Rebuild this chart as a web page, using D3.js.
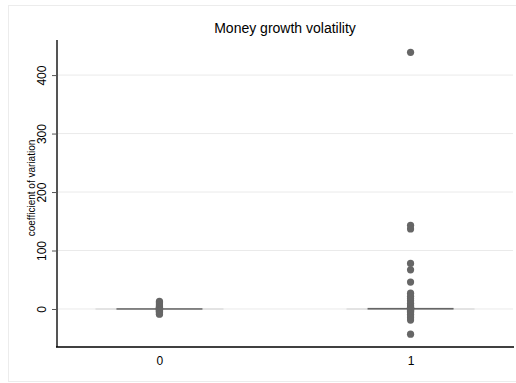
<!DOCTYPE html>
<html>
<head>
<meta charset="utf-8">
<script src="https://cdn.jsdelivr.net/npm/d3@7"></script>
<style>
  body { margin: 0; background: #fff; }
  text { font-family: "Liberation Sans", Arial, sans-serif; }
</style>
</head>
<body>
<script>
// groups on the x axis
var groups = ["0", "1"];
// coefficient of variation per country, group 0
var values0 = [13, 11, 9, 7, 5, 4, 3, 2, 1, 0.5, 0, -0.5, -1, -2, -3, -4, -5, -6, -8, -9];
// group 1
var values1 = [439, 143, 137, 78, 67, 46, 27, 22, 18, 14, 10, 7, 5, 3, 2, 1, 0.5, 0, -1, -2, -4, -6, -9, -12, -15, -19, -43];
// box: [q1, median, q3] per group (very narrow)
var boxes = [[-0.5, 0, 0.5], [-1, 0, 1]];
var yTicks = [0, 100, 200, 300, 400];

var w = 516, h = 383;
var svg = d3.select("body").append("svg")
  .attr("width", w)
  .attr("height", h);

// outer frame
svg.append("rect")
  .attr("x", 8.5).attr("y", 5.5)
  .attr("width", 510).attr("height", 376)
  .attr("fill", "#fff")
  .attr("stroke", "#ececec");

var x = d3.scalePoint().domain(groups).range([57, 513]).padding(0.408);
var y = d3.scaleLinear().domain([-65, 460]).range([347, 40]);

// grid lines
svg.append("g").selectAll("line")
  .data(yTicks)
  .enter().append("line")
  .attr("x1", 57).attr("x2", 513)
  .attr("y1", function(d){ return y(d); })
  .attr("y2", function(d){ return y(d); })
  .attr("stroke", "#eaeaea")
  .attr("stroke-width", 1);

// title
svg.append("text")
  .attr("x", 285).attr("y", 33)
  .attr("text-anchor", "middle")
  .style("font-size", "14px")
  .text("Money growth volatility");

// y axis
var yAxis = svg.append("g")
  .attr("transform", "translate(57,0)")
  .call(d3.axisLeft(y).tickValues(yTicks).tickSize(5).tickPadding(4));
yAxis.select(".domain").attr("stroke", "#555").attr("stroke-width", 2);
yAxis.selectAll(".tick line").attr("stroke", "#555");
yAxis.selectAll(".tick text")
  .attr("transform", "rotate(-90)")
  .attr("x", 0).attr("y", -11)
  .attr("dy", 0)
  .attr("text-anchor", "middle")
  .style("font-size", "12px")
  .attr("fill", "#000");
svg.select(".domain").attr("d", "M0," + 40 + "V" + 347);

svg.append("text")
  .attr("transform", "translate(35,188) rotate(-90)")
  .attr("text-anchor", "middle")
  .style("font-size", "10px")
  .text("coefficient of variation");

// x axis
var xAxis = svg.append("g")
  .attr("transform", "translate(0,347)")
  .call(d3.axisBottom(x).tickSize(0).tickPadding(9));
xAxis.select(".domain").attr("d", "M56,0H514").attr("stroke", "#000").attr("stroke-width", 1.5);
xAxis.selectAll(".tick text").style("font-size", "12px").attr("fill", "#000");

// boxes (degenerate: almost no spread)
var g = svg.append("g");
groups.forEach(function(k, i) {
  var cx = x(k), b = boxes[i];
  g.append("line")
    .attr("x1", cx - 64).attr("x2", cx + 64)
    .attr("y1", y(b[1])).attr("y2", y(b[1]))
    .attr("stroke", "#e3e3e3").attr("stroke-width", 2);
  g.append("rect")
    .attr("x", cx - 43).attr("width", 86)
    .attr("y", y(b[2]) - 0.5)
    .attr("height", Math.max(1.5, y(b[0]) - y(b[2]) + 0.5))
    .attr("fill", "#666");
});

// outlier points
var pts = values0.map(function(v){ return [groups[0], v]; })
  .concat(values1.map(function(v){ return [groups[1], v]; }));
g.selectAll("circle")
  .data(pts)
  .enter().append("circle")
  .attr("cx", function(d){ return x(d[0]); })
  .attr("cy", function(d){ return y(d[1]); })
  .attr("r", 3.6)
  .attr("fill", "#666");
</script>
</body>
</html>
